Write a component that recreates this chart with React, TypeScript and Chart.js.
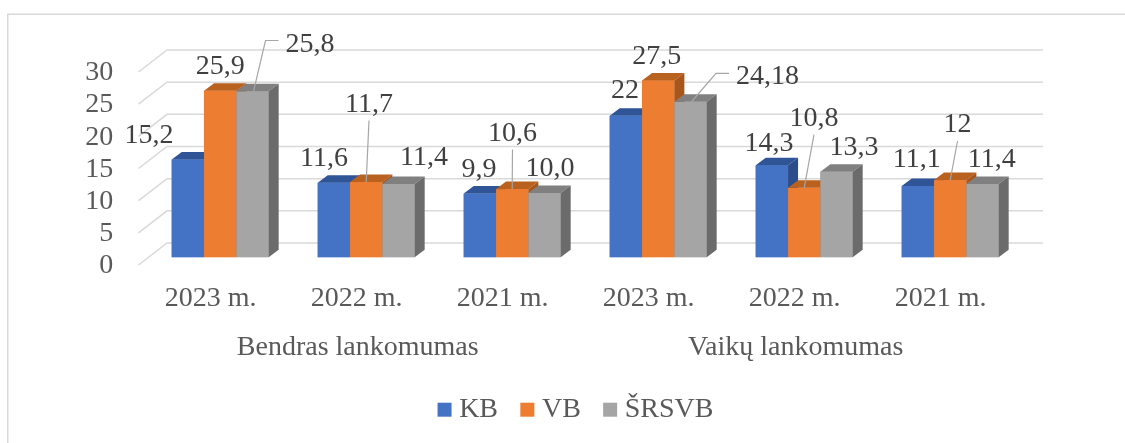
import React, { useEffect, useRef } from 'react';
import { Chart, registerables } from 'chart.js';

Chart.register(...registerables);

// ---- data ----
const categories = ['2023 m.', '2022 m.', '2021 m.', '2023 m.', '2022 m.', '2021 m.'];
const groups = ['Bendras lankomumas', 'Vaikų lankomumas'];
const seriesNames = ['KB', 'VB', 'ŠRSVB'];
const kbValues = [15.2, 11.6, 9.9, 22, 14.3, 11.1];
const vbValues = [25.9, 11.7, 10.6, 27.5, 10.8, 12];
const srsvbValues = [25.8, 11.4, 10.0, 24.18, 13.3, 11.4];
const kbLabels = ['15,2', '11,6', '9,9', '22', '14,3', '11,1'];
const vbLabels = ['25,9', '11,7', '10,6', '27,5', '10,8', '12'];
const srsvbLabels = ['25,8', '11,4', '10,0', '24,18', '13,3', '11,4'];
const yTicks = [0, 5, 10, 15, 20, 25, 30];

// ---- label placement (offset from bar top centre: [dx, baseline dy]) ----
const kbLabelOffsets = [[-38.9, -17], [-9.9, -16.2], [-0.9, -17.1], [-0.9, -17.3], [-2.9, -14.8], [-1.2, -18.9]];
const vbLabelOffsets = [[0, -16.2], [2.8, -70.5], [0.3, -48.6], [-1.5, -15.9], [9.8, -62.3], [7.3, -48.1]];
const srsvbLabelOffsets = [[57.5, -39.8], [25.5, -18.5], [5.5, -16.5], [77, -17.3], [17.5, -17.2], [9.2, -17]];
// 0 = none, 1 = leader from below label, 2 = leader from left of label
const kbLeaders = [0, 0, 0, 0, 0, 0];
const vbLeaders = [0, 1, 1, 0, 1, 1];
const srsvbLeaders = [2, 0, 0, 2, 0, 0];

const FONT = '"Liberation Serif", "Times New Roman", serif';
const fronts = ['#4472C4', '#ED7D31', '#A5A5A5'];
const tops = ['#2F5597', '#B9611F', '#808080'];
const sides = ['#2B4D8C', '#A9561B', '#6B6B6B'];
const DEPTH_X = 10;
const DEPTH_Y = -7.5;

export default function App() {
  const ref = useRef<HTMLCanvasElement>(null);

  useEffect(() => {
    document.body.style.margin = '0';
    const canvas = ref.current!;
    const values = [kbValues, vbValues, srsvbValues];
    const texts = [kbLabels, vbLabels, srsvbLabels];
    const offsets = [kbLabelOffsets, vbLabelOffsets, srsvbLabelOffsets];
    const leaders = [kbLeaders, vbLeaders, srsvbLeaders];

    const backdrop = {
      id: 'backdrop',
      beforeDraw(chart: any) {
        const ctx = chart.ctx;
        ctx.save();
        ctx.fillStyle = '#ffffff';
        ctx.fillRect(0, 0, chart.width, chart.height);
        ctx.strokeStyle = '#D9D9D9';
        ctx.lineWidth = 1.5;
        ctx.strokeRect(7.75, 14.25, 3000, 3000);
        ctx.restore();
      },
      beforeDatasetsDraw(chart: any) {
        const ctx = chart.ctx;
        const ys = chart.scales.y;
        const area = chart.chartArea;
        const x0 = area.left + 19.8;
        const x1 = area.right + 19.8;
        ctx.save();
        ctx.strokeStyle = '#D9D9D9';
        ctx.lineWidth = 1.5;
        yTicks.forEach((v) => {
          const yb = ys.getPixelForValue(v) - 14.3;
          ctx.beginPath();
          ctx.moveTo(x1, yb);
          ctx.lineTo(x0, yb);
          ctx.lineTo(x0 - 28.5, yb + 22);
          ctx.stroke();
        });
        ctx.restore();
      },
    };

    const bars3d = {
      id: 'bars3d',
      afterDatasetsDraw(chart: any) {
        const ctx = chart.ctx;
        ctx.save();
        for (let g = 0; g < categories.length; g++) {
          for (let d = 0; d < values.length; d++) {
            const el = chart.getDatasetMeta(d).data[g];
            const { x, y, base, width } = el.getProps(['x', 'y', 'base', 'width'], true);
            const l = x - width / 2;
            const r = x + width / 2;
            ctx.fillStyle = fronts[d];
            ctx.fillRect(l, y, width, base - y);
            ctx.fillStyle = tops[d];
            ctx.beginPath();
            ctx.moveTo(l, y);
            ctx.lineTo(r, y);
            ctx.lineTo(r + DEPTH_X, y + DEPTH_Y);
            ctx.lineTo(l + DEPTH_X, y + DEPTH_Y);
            ctx.closePath();
            ctx.fill();
            ctx.fillStyle = sides[d];
            ctx.beginPath();
            ctx.moveTo(r, y);
            ctx.lineTo(r + DEPTH_X, y + DEPTH_Y);
            ctx.lineTo(r + DEPTH_X, base + DEPTH_Y);
            ctx.lineTo(r, base);
            ctx.closePath();
            ctx.fill();
          }
        }
        // data labels
        ctx.font = `28px ${FONT}`;
        ctx.textAlign = 'center';
        ctx.textBaseline = 'alphabetic';
        for (let d = 0; d < values.length; d++) {
          const meta = chart.getDatasetMeta(d);
          for (let g = 0; g < categories.length; g++) {
            const el = meta.data[g];
            const { x, y } = el.getProps(['x', 'y'], true);
            const [dx, dy] = offsets[d][g];
            const lx = x + dx;
            const ly = y + dy;
            const t = texts[d][g];
            const tw = ctx.measureText(t).width;
            const lt = leaders[d][g];
            if (lt) {
              ctx.strokeStyle = '#A6A6A6';
              ctx.lineWidth = 1.2;
              ctx.beginPath();
              if (lt === 1) {
                ctx.moveTo(lx, ly + 9);
                ctx.lineTo(x, y);
              } else {
                const sy = ly - 11;
                const left = lx - tw / 2;
                ctx.moveTo(left - 7, sy);
                ctx.lineTo(left - 20, sy);
                ctx.lineTo(x + 1, y);
              }
              ctx.stroke();
            }
            ctx.fillStyle = '#404040';
            ctx.fillText(t, lx, ly);
          }
        }
        ctx.restore();
      },
    };

    const legendPlugin = {
      id: 'customLegend',
      afterDraw(chart: any) {
        const ctx = chart.ctx;
        ctx.save();
        ctx.font = `28px ${FONT}`;
        const box = 14;
        const gap = 7.6;
        const pad = 22.3;
        const widths = seriesNames.map((n) => ctx.measureText(n).width);
        const total = widths.reduce((a, w) => a + box + gap + w, 0) + pad * (seriesNames.length - 1);
        let x = 575.5 - total / 2;
        const cy = 409.7;
        ctx.textAlign = 'left';
        ctx.textBaseline = 'middle';
        seriesNames.forEach((n, i) => {
          ctx.fillStyle = fronts[i];
          ctx.fillRect(x, cy - 7, box, box);
          x += box + gap;
          ctx.fillStyle = '#595959';
          ctx.fillText(n, x, cy);
          x += widths[i] + pad;
        });
        ctx.restore();
      },
    };

    const tickFont = { family: FONT, size: 28 };

    const chart = new Chart(canvas, {
      type: 'bar',
      data: {
        labels: categories,
        datasets: seriesNames.map((name, i) => ({
          label: name,
          data: values[i],
          backgroundColor: fronts[i],
          borderWidth: 0,
          xAxisID: 'x',
          yAxisID: 'y',
          categoryPercentage: 0.664,
          barPercentage: 1,
        })),
      },
      options: {
        responsive: false,
        animation: false,
        layout: { padding: { left: 0, right: 101.8, top: 64.3, bottom: 65.7 } },
        plugins: { legend: { display: false }, tooltip: { enabled: false } },
        scales: {
          x: {
            type: 'category',
            position: 'bottom',
            weight: 0,
            offset: true,
            grid: { display: false, drawTicks: false },
            border: { display: false },
            ticks: { font: tickFont, color: '#595959', padding: 24.2, labelOffset: -9.5, maxRotation: 0, autoSkip: false },
            afterFit(s: any) { s.height = 60; },
          },
          x2: {
            type: 'category',
            position: 'bottom',
            weight: 1,
            labels: groups,
            offset: true,
            grid: { display: false, drawTicks: false },
            border: { display: false },
            ticks: { font: tickFont, color: '#595959', padding: 13.4, labelOffset: -8.5, maxRotation: 0, autoSkip: false },
            afterFit(s: any) { s.height = 60; },
          },
          y: {
            type: 'linear',
            position: 'left',
            min: 0,
            max: 30,
            grid: { display: false, drawTicks: false },
            border: { display: false },
            ticks: { font: tickFont, color: '#595959', padding: 33.9, labelOffset: 8.6, stepSize: 5, autoSkip: false },
            afterFit(s: any) { s.width = 147.2; },
          },
        },
      } as any,
      plugins: [backdrop, bars3d, legendPlugin],
    });
    return () => chart.destroy();
  }, []);

  return <canvas ref={ref} width={1125} height={443} style={{ display: 'block' }} />;
}
